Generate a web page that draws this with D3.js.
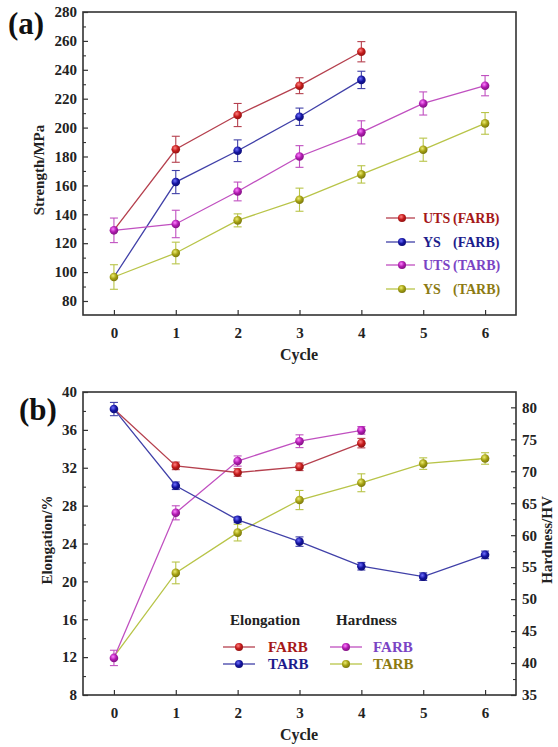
<!DOCTYPE html>
<html><head><meta charset="utf-8">
<script src="https://cdn.jsdelivr.net/npm/d3@7"></script>
<style>
html,body{margin:0;padding:0;background:#fff;}
svg{display:block;font-family:"Liberation Serif","Times New Roman",serif;font-weight:bold;}
</style></head>
<body>
<svg id="c" width="558" height="747"></svg>
<script>
// ---------- data ----------
const cycles = [0, 1, 2, 3, 4, 5, 6];
const xTicks = [0, 1, 2, 3, 4, 5, 6];

// (a) strength, MPa
const utsFARB = [129, 185, 208.7, 229, 252.5];
const utsFARBErr = [0, 9, 8, 5.5, 7];
const ysFARB = [96.6, 162.3, 184, 207.5, 233];
const ysFARBErr = [0, 8, 7.5, 6, 6];
const utsTARB = [128.9, 133.3, 155.8, 180, 196.7, 216.7, 229];
const utsTARBErr = [8.5, 9.5, 6.5, 7.5, 8, 8, 7];
const ysTARB = [96.6, 113.2, 135.8, 150.1, 167.6, 184.7, 202.9];
const ysTARBErr = [8.5, 7.5, 4.5, 8, 6, 8, 7.5];
const strengthTicks = [80, 100, 120, 140, 160, 180, 200, 220, 240, 260, 280];

// (b) elongation %, hardness HV
const elongFARB = [38.2, 32.2, 31.5, 32.1, 34.6];
const elongFARBErr = [0, 0.4, 0.4, 0.4, 0.5];
const elongTARB = [38.2, 30.1, 26.5, 24.2, 21.6, 20.5, 22.8];
const elongTARBErr = [0.7, 0.4, 0.3, 0.5, 0.4, 0.4, 0.4];
const hardFARB = [40.8, 63.5, 71.6, 74.7, 76.4];
const hardFARBErr = [1.2, 1.1, 0.8, 1.0, 0.6];
const hardTARB = [41, 54.1, 60.4, 65.5, 68.2, 71.2, 72.0];
const hardTARBErr = [0, 1.7, 1.3, 1.5, 1.4, 0.9, 0.9];
const elongTicks = [8, 12, 16, 20, 24, 28, 32, 36, 40];
const hardTicks = [35, 40, 45, 50, 55, 60, 65, 70, 75, 80];

// ---------- styles ----------
const C = {
  red:   {line: "#b5404e", mark: "#c41a1a", hi: "#ff8080", text: "#a51818"},
  blue:  {line: "#4040a8", mark: "#1414a0", hi: "#7070ff", text: "#1c1c8c"},
  mag:   {line: "#c050c0", mark: "#b01ab0", hi: "#ff80ff", text: "#7a44c4"},
  olive: {line: "#b8c448", mark: "#a4a012", hi: "#ecec70", text: "#8c7a12"}
};

const svg = d3.select("#c");
const defs = svg.append("defs");
Object.entries(C).forEach(([k, c]) => {
  const g = defs.append("radialGradient").attr("id", "g-" + k)
    .attr("cx", "40%").attr("cy", "35%").attr("r", "65%");
  g.append("stop").attr("offset", "0%").attr("stop-color", c.hi);
  g.append("stop").attr("offset", "55%").attr("stop-color", c.mark);
  g.append("stop").attr("offset", "100%").attr("stop-color", d3.color(c.mark).darker(0.8));
});

const L = 83, R = 516;
const x = d3.scaleLinear().domain([-0.5, 6.5]).range([L, R]);
const axisColor = "#333";
const tickColor = "#222";
const FONT = "Liberation Serif";

function frame(top, bottom) {
  svg.append("rect").attr("x", L).attr("y", top).attr("width", R - L).attr("height", bottom - top)
    .attr("fill", "none").attr("stroke", axisColor).attr("stroke-width", 1.6);
}

function styleText(g) {
  g.attr("font-family", FONT);
  g.selectAll("text").attr("fill", tickColor).attr("font-size", 15).attr("font-family", FONT).attr("font-weight", "bold");
}

function xAxis(bottom) {
  const g = svg.append("g").attr("transform", `translate(0,${bottom})`)
    .call(d3.axisBottom(x).tickValues(xTicks).tickSizeInner(-5).tickSizeOuter(0).tickPadding(12).tickFormat(d3.format("d")));
  g.select(".domain").remove();
  g.selectAll("line").attr("stroke", axisColor).attr("stroke-width", 1.2);
  styleText(g);
}

function yAxisLeft(y, ticks, minorStep) {
  const dom = y.domain();
  const minor = d3.range(Math.ceil(dom[0] / minorStep) * minorStep, dom[1] + 1e-9, minorStep).filter(v => !ticks.includes(v));
  const gm = svg.append("g").attr("transform", `translate(${L},0)`)
    .call(d3.axisLeft(y).tickValues(minor).tickSizeInner(-3).tickSizeOuter(0).tickFormat(""));
  gm.select(".domain").remove();
  gm.selectAll("line").attr("stroke", axisColor).attr("stroke-width", 1.1);
  const g = svg.append("g").attr("transform", `translate(${L},0)`)
    .call(d3.axisLeft(y).tickValues(ticks).tickSizeInner(-5).tickSizeOuter(0).tickPadding(6).tickFormat(d3.format("d")));
  g.select(".domain").remove();
  g.selectAll("line").attr("stroke", axisColor).attr("stroke-width", 1.2);
  styleText(g);
}

function yAxisRight(y, ticks, minorStep) {
  const dom = y.domain();
  const minor = d3.range(Math.ceil(dom[0] / minorStep) * minorStep, dom[1] + 1e-9, minorStep).filter(v => !ticks.includes(v));
  const gm = svg.append("g").attr("transform", `translate(${R},0)`)
    .call(d3.axisRight(y).tickValues(minor).tickSizeInner(-3).tickSizeOuter(0).tickFormat(""));
  gm.select(".domain").remove();
  gm.selectAll("line").attr("stroke", axisColor).attr("stroke-width", 1.1);
  const g = svg.append("g").attr("transform", `translate(${R},0)`)
    .call(d3.axisRight(y).tickValues(ticks).tickSizeInner(-5).tickSizeOuter(0).tickPadding(6).tickFormat(d3.format("d")));
  g.select(".domain").remove();
  g.selectAll("line").attr("stroke", axisColor).attr("stroke-width", 1.2);
  styleText(g);
}

function series(y, vals, errs, col, showFirstMarker = true) {
  const c = C[col];
  const pts = vals.map((v, i) => ({x: cycles[i], y: v, e: errs[i]}));
  const line = d3.line().x(d => x(d.x)).y(d => y(d.y));
  svg.append("path").datum(pts).attr("d", line).attr("fill", "none")
    .attr("stroke", c.line).attr("stroke-width", 1.3);
  const g = svg.append("g");
  pts.forEach((d, i) => {
    if (d.e > 0) {
      const cx = x(d.x), t = y(d.y + d.e), b = y(d.y - d.e);
      g.append("line").attr("x1", cx).attr("x2", cx).attr("y1", t).attr("y2", b).attr("stroke", c.line).attr("stroke-width", 1.1);
      g.append("line").attr("x1", cx - 4).attr("x2", cx + 4).attr("y1", t).attr("y2", t).attr("stroke", c.line).attr("stroke-width", 1.1);
      g.append("line").attr("x1", cx - 4).attr("x2", cx + 4).attr("y1", b).attr("y2", b).attr("stroke", c.line).attr("stroke-width", 1.1);
    }
    if (i > 0 || showFirstMarker) {
      g.append("circle").attr("cx", x(d.x)).attr("cy", y(d.y)).attr("r", 4.3)
        .attr("fill", `url(#g-${col})`);
    }
  });
}

function legendEntry(x1, x2, xm, yy, col) {
  const c = C[col];
  svg.append("line").attr("x1", x1).attr("x2", x2).attr("y1", yy).attr("y2", yy).attr("stroke", c.line).attr("stroke-width", 1.3);
  svg.append("circle").attr("cx", xm).attr("cy", yy).attr("r", 4).attr("fill", `url(#g-${col})`);
}

// ================= (a) =================
const topA = 12, botA = 315;
const yA = d3.scaleLinear().domain([70.3, 280]).range([botA, topA]);
frame(topA, botA);
xAxis(botA);
yAxisLeft(yA, strengthTicks, 10);

series(yA, utsFARB, utsFARBErr, "red", false);
series(yA, ysFARB, ysFARBErr, "blue", false);
series(yA, utsTARB, utsTARBErr, "mag");
series(yA, ysTARB, ysTARBErr, "olive");

svg.append("text").attr("x", 8).attr("y", 34).attr("font-size", 31).attr("fill", "#111").text("(a)");
svg.append("text").attr("transform", `translate(44,170) rotate(-90)`).attr("text-anchor", "middle")
  .attr("font-size", 15).attr("fill", "#222").text("Strength/MPa");
svg.append("text").attr("x", 299).attr("y", 360).attr("text-anchor", "middle")
  .attr("font-size", 16).attr("fill", "#222").text("Cycle");

const legA = [
  {col: "red", a: "UTS", b: "(FARB)", y: 218},
  {col: "blue", a: "YS", b: "(FARB)", y: 242},
  {col: "mag", a: "UTS", b: "(TARB)", y: 265},
  {col: "olive", a: "YS", b: "(TARB)", y: 289}
];
legA.forEach(d => {
  legendEntry(386, 415, 402, d.y, d.col);
  svg.append("text").attr("x", 423).attr("y", d.y + 5).attr("font-size", 14).attr("fill", C[d.col].text).text(d.a);
  svg.append("text").attr("x", 453).attr("y", d.y + 5).attr("font-size", 14).attr("fill", C[d.col].text).text(d.b);
});

// ================= (b) =================
const topB = 392, botB = 695;
const yB = d3.scaleLinear().domain([8, 40]).range([botB, topB]);
const yH = d3.scaleLinear().domain([35, 82.4]).range([botB, topB]);
frame(topB, botB);
xAxis(botB);
yAxisLeft(yB, elongTicks, 2);
yAxisRight(yH, hardTicks, 2.5);

series(yH, hardTARB, hardTARBErr, "olive", false);
series(yH, hardFARB, hardFARBErr, "mag");
series(yB, elongFARB, elongFARBErr, "red", false);
series(yB, elongTARB, elongTARBErr, "blue");

svg.append("text").attr("x", 19).attr("y", 420).attr("font-size", 31).attr("fill", "#111").text("(b)");
svg.append("text").attr("transform", `translate(52,540) rotate(-90)`).attr("text-anchor", "middle")
  .attr("font-size", 15).attr("fill", "#222").text("Elongation/%");
svg.append("text").attr("transform", `translate(552,540) rotate(-90)`).attr("text-anchor", "middle")
  .attr("font-size", 15).attr("fill", "#222").text("Hardness/HV");
svg.append("text").attr("x", 299).attr("y", 740).attr("text-anchor", "middle")
  .attr("font-size", 16).attr("fill", "#222").text("Cycle");

svg.append("text").attr("x", 230).attr("y", 625).attr("font-size", 15).attr("fill", "#222").text("Elongation");
svg.append("text").attr("x", 336).attr("y", 625).attr("font-size", 15).attr("fill", "#222").text("Hardness");
const legB = [
  {col: "red", x1: 223, x2: 255, xm: 239, tx: 268, y: 647, t: "FARB"},
  {col: "blue", x1: 223, x2: 255, xm: 239, tx: 268, y: 664, t: "TARB"},
  {col: "mag", x1: 330, x2: 362, xm: 346, tx: 373, y: 647, t: "FARB"},
  {col: "olive", x1: 330, x2: 362, xm: 346, tx: 373, y: 664, t: "TARB"}
];
legB.forEach(d => {
  legendEntry(d.x1, d.x2, d.xm, d.y, d.col);
  svg.append("text").attr("x", d.tx).attr("y", d.y + 5).attr("font-size", 15).attr("fill", C[d.col].text).text(d.t);
});
</script>
</body></html>
